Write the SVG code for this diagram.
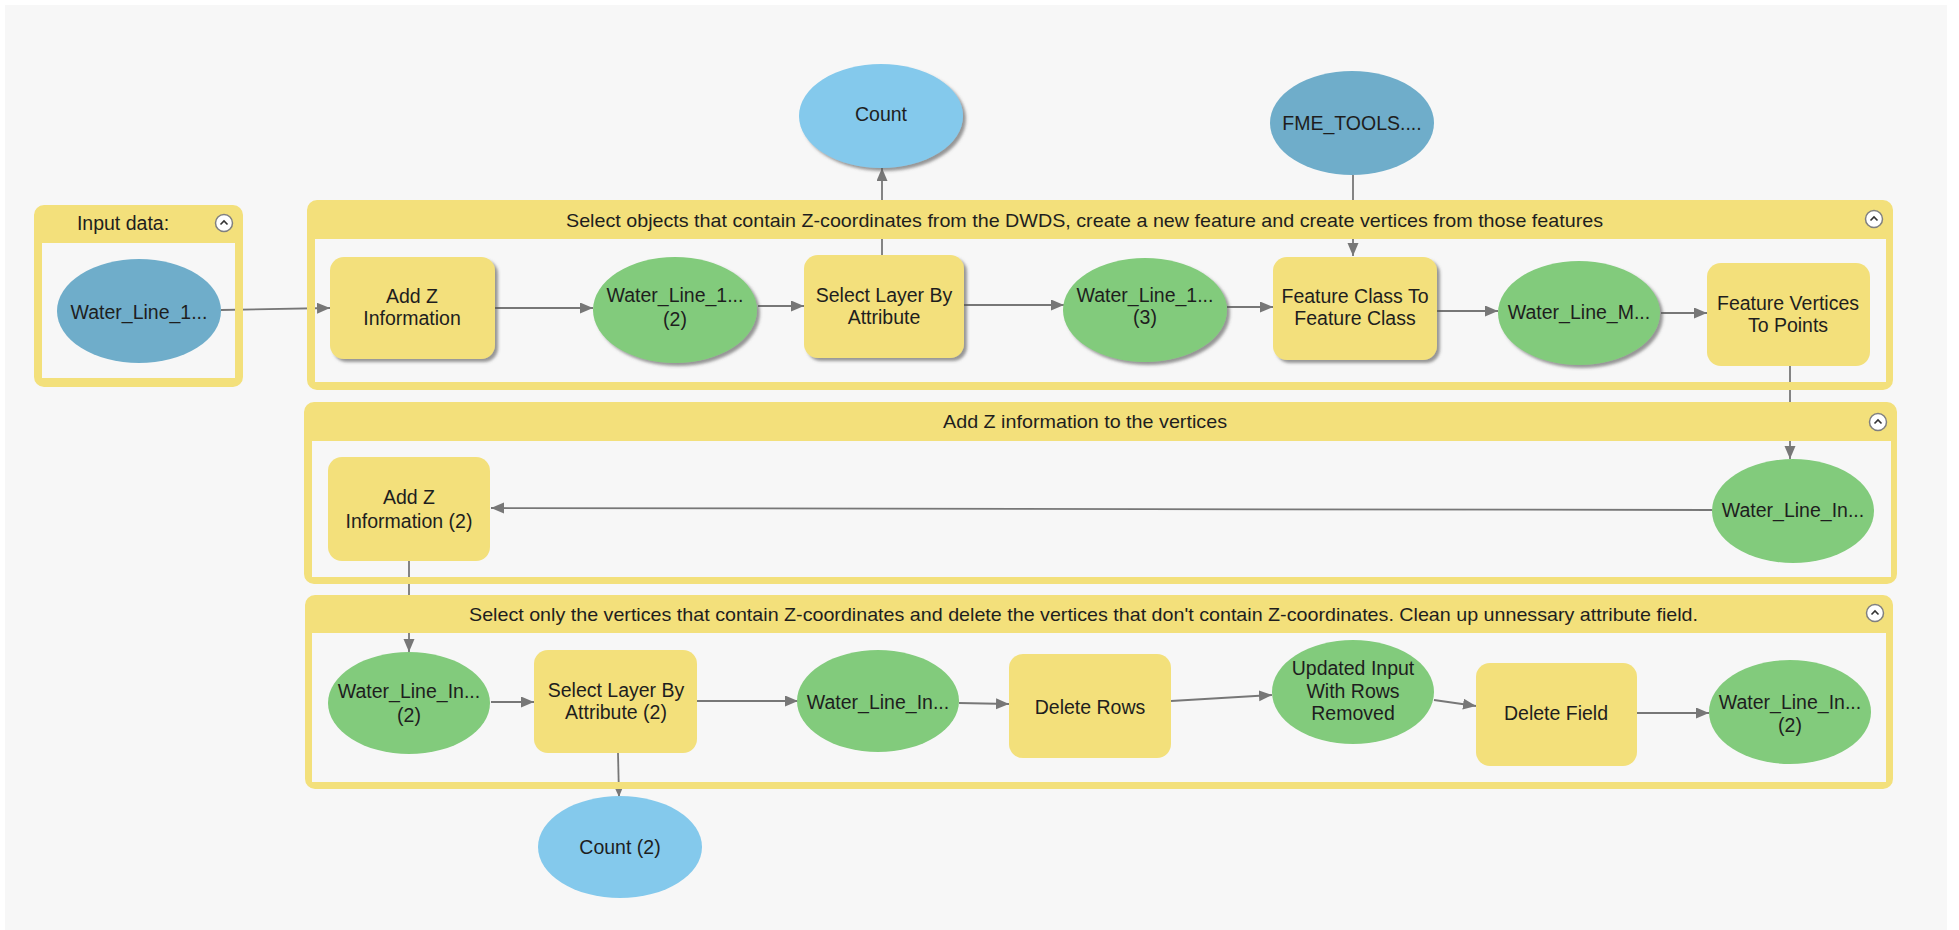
<svg xmlns="http://www.w3.org/2000/svg" width="1959" height="930" viewBox="0 0 1959 930">
<defs>
<style>
.frame{fill:#f3e07b;fill-rule:evenodd}
.tool{fill:#f3e07b}
.green{fill:#82cb7c}
.lblue{fill:#84c9ec}
.dblue{fill:#6fadca}
.t{font-family:"Liberation Sans",Arial,sans-serif;font-size:19.5px;fill:#1e1e1e;text-anchor:middle}
.h{font-family:"Liberation Sans",Arial,sans-serif;font-size:19px;fill:#1e1e1e;text-anchor:middle}
.c{stroke:#777;stroke-width:1.8;fill:none;marker-end:url(#ah)}
.btn{fill:#fff;stroke:#808080;stroke-width:1.5}
.chev{fill:none;stroke:#333;stroke-width:1.6}
</style>
<marker id="ah" markerUnits="userSpaceOnUse" markerWidth="14" markerHeight="12" refX="13" refY="5.5" orient="auto">
<path d="M0,0 L13,5.5 L0,11 z" fill="#777"/>
</marker>
<filter id="sh" x="-20%" y="-20%" width="150%" height="150%">
<feDropShadow dx="3" dy="3" stdDeviation="1.5" flood-color="#555" flood-opacity="0.6"/>
</filter>
</defs>
<rect x="0" y="0" width="1959" height="930" fill="#ffffff"/>
<rect x="5" y="5" width="1942" height="925" fill="#f7f7f7"/>

<!-- Connectors (drawn beneath group frames) -->
<g id="connectors">
<path class="c" d="M221,310 L330,308"/>
<path class="c" d="M495,308 L593,308"/>
<path class="c" d="M758,306 L804,306"/>
<path class="c" d="M882,255 L882,168"/>
<path class="c" d="M964,305 L1064,305"/>
<path class="c" d="M1353,175 L1353,256"/>
<path class="c" d="M1227,307 L1273,307"/>
<path class="c" d="M1437,311 L1498,311"/>
<path class="c" d="M1661,313 L1707,313"/>
<path class="c" d="M1790,366 L1790,459"/>
<path class="c" d="M1712,510 L491,508"/>
<path class="c" d="M409,561 L409,652"/>
<path class="c" d="M491,702 L534,702"/>
<path class="c" d="M697,701 L798,701"/>
<path class="c" d="M618,753 L619,797"/>
<path class="c" d="M959,703 L1009,704"/>
<path class="c" d="M1171,701 L1272,695"/>
<path class="c" d="M1434,700 L1476,706"/>
<path class="c" d="M1637,713 L1709,713"/>
</g>

<!-- Groups -->
<g id="group-input">
<path class="frame" d="M44,205 H233 A10,10 0 0 1 243,215 V377 A10,10 0 0 1 233,387 H44 A10,10 0 0 1 34,377 V215 A10,10 0 0 1 44,205 Z M42,243 H235 V378 H42 Z"/>
<text class="h" x="123" y="230" style="font-size:19.5px">Input data:</text>
<circle class="btn" cx="224" cy="223" r="8.5"/><path class="chev" d="M220.5,224.5 L224,221 L227.5,224.5"/>
</g>
<g id="group-select-objects">
<path class="frame" d="M317,200 H1883 A10,10 0 0 1 1893,210 V380 A10,10 0 0 1 1883,390 H317 A10,10 0 0 1 307,380 V210 A10,10 0 0 1 317,200 Z M315,239 H1886 V382 H315 Z"/>
<text class="h" x="1084.5" y="227" textLength="1037" lengthAdjust="spacingAndGlyphs">Select objects that contain Z-coordinates from the DWDS, create a new feature and create vertices from those features</text>
<circle class="btn" cx="1874" cy="219" r="8.5"/><path class="chev" d="M1870.5,220.5 L1874,217 L1877.5,220.5"/>
</g>
<g id="group-add-z">
<path class="frame" d="M314,402 H1887 A10,10 0 0 1 1897,412 V574 A10,10 0 0 1 1887,584 H314 A10,10 0 0 1 304,574 V412 A10,10 0 0 1 314,402 Z M312,441 H1891 V577 H312 Z"/>
<text class="h" x="1085" y="428" textLength="284" lengthAdjust="spacingAndGlyphs">Add Z information to the vertices</text>
<circle class="btn" cx="1878" cy="422" r="8.5"/><path class="chev" d="M1874.5,423.5 L1878,420 L1881.5,423.5"/>
</g>
<g id="group-select-vertices">
<path class="frame" d="M315,595 H1883 A10,10 0 0 1 1893,605 V779 A10,10 0 0 1 1883,789 H315 A10,10 0 0 1 305,779 V605 A10,10 0 0 1 315,595 Z M312,633 H1886 V782 H312 Z"/>
<text class="h" x="1083.5" y="621" textLength="1229" lengthAdjust="spacingAndGlyphs">Select only the vertices that contain Z-coordinates and delete the vertices that don't contain Z-coordinates. Clean up unnessary attribute field.</text>
<circle class="btn" cx="1875" cy="613" r="8.5"/><path class="chev" d="M1871.5,614.5 L1875,611 L1878.5,614.5"/>
</g>

<!-- Nodes -->
<g id="n-input-water-line">
<ellipse class="dblue" cx="139" cy="311" rx="82" ry="52"/>
<text class="t" x="139" y="319">Water_Line_1...</text>
</g>
<g id="n-add-z">
<rect class="tool" x="330" y="257" width="165" height="102" rx="14" filter="url(#sh)"/>
<text class="t" x="412" y="303">Add Z</text>
<text class="t" x="412" y="325">Information</text>
</g>
<g id="n-water-line-2">
<ellipse class="green" cx="675" cy="310" rx="82" ry="53" filter="url(#sh)"/>
<text class="t" x="675" y="302">Water_Line_1...</text>
<text class="t" x="675" y="326">(2)</text>
</g>
<g id="n-select-layer">
<rect class="tool" x="804" y="255" width="160" height="103" rx="14" filter="url(#sh)"/>
<text class="t" x="884" y="302">Select Layer By</text>
<text class="t" x="884" y="324">Attribute</text>
</g>
<g id="n-count">
<ellipse class="lblue" cx="881" cy="116" rx="82" ry="52" filter="url(#sh)"/>
<text class="t" x="881" y="121">Count</text>
</g>
<g id="n-water-line-3">
<ellipse class="green" cx="1145" cy="310" rx="82" ry="52" filter="url(#sh)"/>
<text class="t" x="1145" y="302">Water_Line_1...</text>
<text class="t" x="1145" y="324">(3)</text>
</g>
<g id="n-fme-tools">
<ellipse class="dblue" cx="1352" cy="123" rx="82" ry="52"/>
<text class="t" x="1352" y="130">FME_TOOLS....</text>
</g>
<g id="n-fc-to-fc">
<rect class="tool" x="1273" y="257" width="164" height="103" rx="14" filter="url(#sh)"/>
<text class="t" x="1355" y="303">Feature Class To</text>
<text class="t" x="1355" y="325">Feature Class</text>
</g>
<g id="n-water-line-m">
<ellipse class="green" cx="1579" cy="313" rx="81" ry="52" filter="url(#sh)"/>
<text class="t" x="1579" y="319">Water_Line_M...</text>
</g>
<g id="n-feature-vertices">
<rect class="tool" x="1707" y="263" width="163" height="103" rx="14"/>
<text class="t" x="1788" y="310">Feature Vertices</text>
<text class="t" x="1788" y="332">To Points</text>
</g>
<g id="n-water-line-in">
<ellipse class="green" cx="1793" cy="511" rx="81" ry="52"/>
<text class="t" x="1793" y="517">Water_Line_In...</text>
</g>
<g id="n-add-z-2">
<rect class="tool" x="328" y="457" width="162" height="104" rx="14"/>
<text class="t" x="409" y="504">Add Z</text>
<text class="t" x="409" y="528">Information (2)</text>
</g>
<g id="n-water-line-in-2">
<ellipse class="green" cx="409" cy="703" rx="81" ry="51"/>
<text class="t" x="409" y="698">Water_Line_In...</text>
<text class="t" x="409" y="722">(2)</text>
</g>
<g id="n-select-layer-2">
<rect class="tool" x="534" y="650" width="163" height="103" rx="14"/>
<text class="t" x="616" y="697">Select Layer By</text>
<text class="t" x="616" y="719">Attribute (2)</text>
</g>
<g id="n-count-2">
<ellipse class="lblue" cx="620" cy="847" rx="82" ry="51"/>
<text class="t" x="620" y="854">Count (2)</text>
</g>
<g id="n-water-line-in-mid">
<ellipse class="green" cx="878" cy="701" rx="81" ry="51"/>
<text class="t" x="878" y="709">Water_Line_In...</text>
</g>
<g id="n-delete-rows">
<rect class="tool" x="1009" y="654" width="162" height="104" rx="14"/>
<text class="t" x="1090" y="714">Delete Rows</text>
</g>
<g id="n-updated-input">
<ellipse class="green" cx="1353" cy="692" rx="81" ry="52"/>
<text class="t" x="1353" y="675">Updated Input</text>
<text class="t" x="1353" y="698">With Rows</text>
<text class="t" x="1353" y="720">Removed</text>
</g>
<g id="n-delete-field">
<rect class="tool" x="1476" y="663" width="161" height="103" rx="14"/>
<text class="t" x="1556" y="720">Delete Field</text>
</g>
<g id="n-water-line-in-final">
<ellipse class="green" cx="1790" cy="712" rx="81" ry="52"/>
<text class="t" x="1790" y="709">Water_Line_In...</text>
<text class="t" x="1790" y="732">(2)</text>
</g>
</svg>
